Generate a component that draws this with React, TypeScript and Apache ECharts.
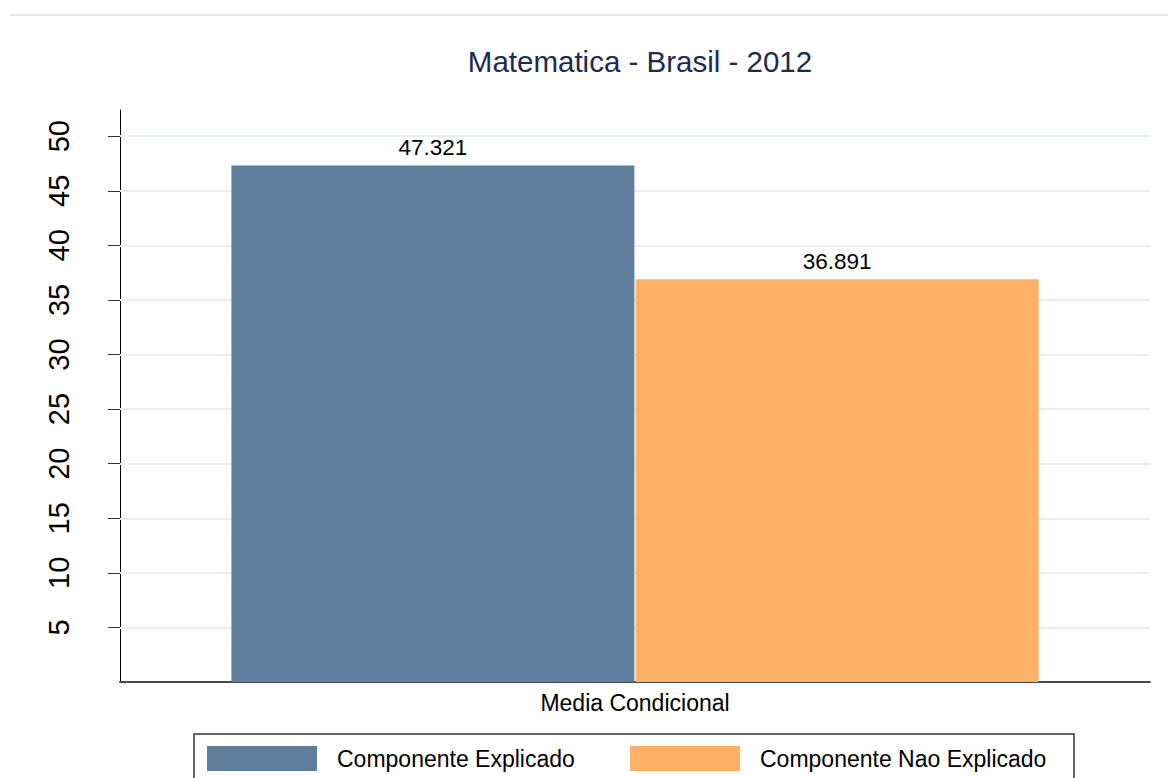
import React, { useEffect, useRef } from "react";
import * as echarts from "echarts";

const categories = ["Media Condicional"];
const seriesNames = ["Componente Explicado", "Componente Nao Explicado"];
const explicado = [47.321];
const naoExplicado = [36.891];
const yTicks = [5, 10, 15, 20, 25, 30, 35, 40, 45, 50];
const colors = ["#5f7e9b", "#ffb067"];

export default function App() {
  const ref = useRef<HTMLDivElement>(null);
  useEffect(() => {
    if (!ref.current) return;
    const chart = echarts.init(ref.current, null, { renderer: "svg" });
    const font = "Liberation Sans, Arial, Helvetica, sans-serif";
    const legendCommon = {
      orient: "horizontal",
      top: 746,
      itemWidth: 110,
      itemHeight: 25,
      icon: "rect",
      padding: 0,
      textStyle: { fontSize: 23, color: "#000", fontFamily: font, padding: [0, 0, 0, 15] },
      selectedMode: false,
    };
    const barLabel = {
      show: true,
      position: "top",
      distance: 6,
      fontSize: 22.5,
      color: "#000",
      fontFamily: font,
      formatter: (p: any) => p.value.toFixed(3),
    };
    chart.setOption({
      animation: false,
      backgroundColor: "#ffffff",
      title: {
        text: "Matematica - Brasil - 2012",
        left: 635,
        top: 41,
        textAlign: "center",
        textStyle: { fontSize: 29.5, fontWeight: "normal", color: "#1c2b52", fontFamily: font },
      },
      grid: { left: 120, right: 18, top: 110, bottom: 96, containLabel: false },
      legend: [
        { ...legendCommon, left: 207, data: [seriesNames[0]] },
        { ...legendCommon, left: 630, data: [seriesNames[1]] },
      ],
      graphic: [
        {
          type: "line",
          shape: { x1: 9, y1: 15, x2: 1168, y2: 15 },
          style: { stroke: "#e4eae9", lineWidth: 2 },
        },
        {
          type: "rect",
          shape: { x: 194, y: 734, width: 880, height: 60 },
          style: { fill: "none", stroke: "#333", lineWidth: 1.5 },
          z: -1,
        },
      ],
      xAxis: {
        type: "category",
        data: categories,
        axisTick: { show: false },
        axisLine: { lineStyle: { color: "#4a4a4a", width: 2 } },
        axisLabel: { fontSize: 23, color: "#000", fontFamily: font, margin: 9 },
      },
      yAxis: {
        type: "value",
        min: 0,
        max: 52.4,
        interval: 5,
        axisLine: { show: true, lineStyle: { color: "#000", width: 1 } },
        axisTick: { show: true, length: 12, customValues: yTicks, lineStyle: { color: "#333" } },
        axisLabel: {
          customValues: yTicks,
          rotate: 90,
          fontSize: 29,
          color: "#000",
          fontFamily: font,
          margin: 47,
        },
        splitLine: { show: false },
      },
      series: [
        {
          name: seriesNames[0],
          type: "bar",
          data: explicado,
          barWidth: 403,
          barGap: "0.3%",
          itemStyle: { color: colors[0] },
          label: barLabel,
          z: 3,
          markLine: {
            silent: true,
            symbol: "none",
            z: 1,
            label: { show: false },
            lineStyle: { color: "#e8eff1", width: 2, type: "solid" },
            data: yTicks.map((v) => ({ yAxis: v })),
          },
        },
        {
          name: seriesNames[1],
          type: "bar",
          data: naoExplicado,
          barWidth: 403,
          itemStyle: { color: colors[1] },
          label: barLabel,
          z: 3,
        },
      ],
    });
    return () => chart.dispose();
  }, []);
  return (
    <div
      ref={ref}
      style={{ position: "absolute", left: 0, top: 0, width: 1168, height: 778 }}
    />
  );
}
